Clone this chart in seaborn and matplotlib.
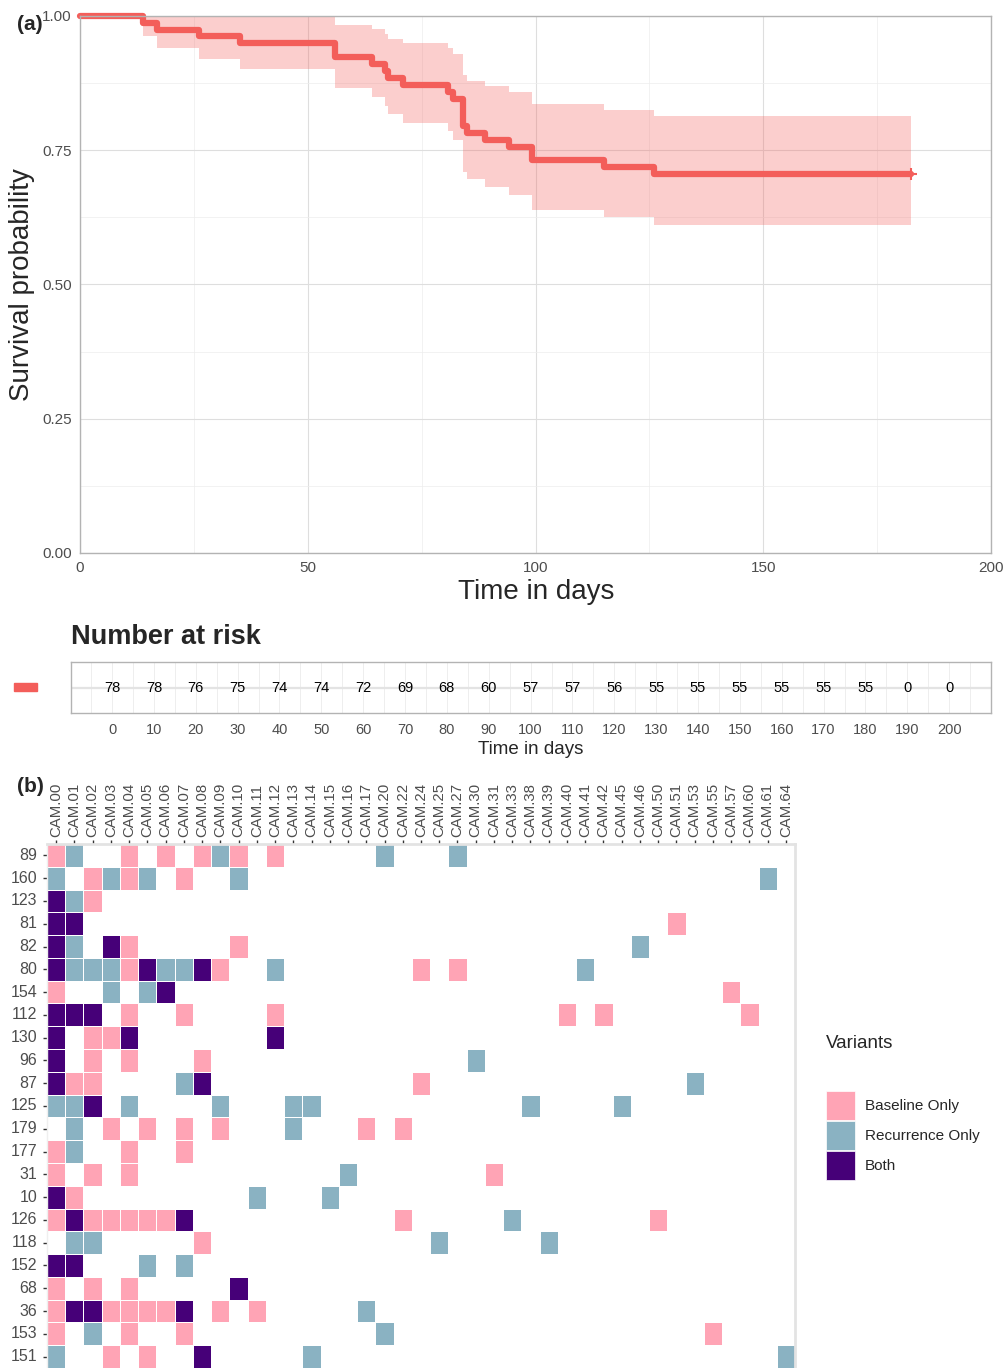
import numpy as np
import pandas as pd
import matplotlib
matplotlib.use("Agg")
import matplotlib.pyplot as plt
from matplotlib.colors import ListedColormap
from matplotlib.patches import Rectangle
import seaborn as sns

sns.set_theme(style="white")
plt.rcParams['font.family'] = ['Liberation Sans', 'DejaVu Sans']

# ---------------- data: (a) Kaplan-Meier ----------------
km_time = [0, 13.9, 16.8, 26.2, 35.1, 55.9, 64.0, 66.9, 67.6, 70.9, 80.9,
           81.9, 84.1, 84.9, 89.0, 94.2, 99.2, 115.0, 126.0, 182.4]
km_surv = [1.000, 0.987, 0.974, 0.962, 0.949, 0.923, 0.910, 0.897, 0.885, 0.872,
           0.859, 0.846, 0.795, 0.782, 0.769, 0.756, 0.731, 0.718, 0.705, 0.705]
km_lower = [1.000, 0.963, 0.940, 0.920, 0.901, 0.866, 0.849, 0.833, 0.817, 0.801,
            0.785, 0.770, 0.710, 0.696, 0.681, 0.667, 0.639, 0.625, 0.611, 0.611]
km_upper = [1.000, 1.000, 1.000, 1.000, 0.999, 0.984, 0.976, 0.967, 0.958, 0.949,
            0.940, 0.930, 0.890, 0.879, 0.869, 0.858, 0.836, 0.825, 0.814, 0.814]
censor_time = [182.4]
censor_surv = [0.705]

risk_time = [0, 10, 20, 30, 40, 50, 60, 70, 80, 90, 100, 110, 120, 130, 140,
             150, 160, 170, 180, 190, 200]
risk_n = [78, 78, 76, 75, 74, 74, 72, 69, 68, 60, 57, 57, 56, 55, 55, 55, 55,
          55, 55, 0, 0]

# ---------------- data: (b) variant heatmap ----------------
cols = ['CAM.00', 'CAM.01', 'CAM.02', 'CAM.03', 'CAM.04', 'CAM.05', 'CAM.06',
        'CAM.07', 'CAM.08', 'CAM.09', 'CAM.10', 'CAM.11', 'CAM.12', 'CAM.13',
        'CAM.14', 'CAM.15', 'CAM.16', 'CAM.17', 'CAM.20', 'CAM.22', 'CAM.24',
        'CAM.25', 'CAM.27', 'CAM.30', 'CAM.31', 'CAM.33', 'CAM.38', 'CAM.39',
        'CAM.40', 'CAM.41', 'CAM.42', 'CAM.45', 'CAM.46', 'CAM.50', 'CAM.51',
        'CAM.53', 'CAM.55', 'CAM.57', 'CAM.60', 'CAM.61', 'CAM.64']
rows = ['89', '160', '123', '81', '82', '80', '154', '112', '130', '96', '87',
        '125', '179', '177', '31', '10', '126', '118', '152', '68', '36', '153', '151']

baseline_only = {
    '89': ['00', '04', '06', '08', '10', '12'],
    '160': ['02', '04', '07'],
    '123': ['02'],
    '81': ['51'],
    '82': ['04', '10'],
    '80': ['04', '09', '24', '27'],
    '154': ['00', '57'],
    '112': ['04', '07', '12', '40', '42', '60'],
    '130': ['02', '03'],
    '96': ['02', '04', '08'],
    '87': ['01', '02', '24'],
    '179': ['03', '05', '07', '09', '17', '22'],
    '177': ['00', '04', '07'],
    '31': ['00', '02', '04', '31'],
    '10': ['01'],
    '126': ['00', '02', '03', '04', '05', '06', '22', '50'],
    '118': ['08'],
    '68': ['00', '02', '04'],
    '36': ['00', '03', '04', '05', '06', '09', '11'],
    '153': ['00', '04', '07', '55'],
    '151': ['03', '05'],
}
recurrence_only = {
    '89': ['01', '09', '20', '27'],
    '160': ['00', '03', '05', '10', '61'],
    '123': ['01'],
    '82': ['01', '46'],
    '80': ['01', '02', '03', '06', '07', '12', '41'],
    '154': ['03', '05'],
    '96': ['30'],
    '87': ['07', '53'],
    '125': ['00', '01', '04', '09', '13', '14', '38', '45'],
    '179': ['01', '13'],
    '177': ['01'],
    '31': ['16'],
    '10': ['11', '15'],
    '126': ['33'],
    '118': ['01', '02', '25', '39'],
    '152': ['05', '07'],
    '36': ['17'],
    '153': ['02', '20'],
    '151': ['00', '14', '64'],
}
both = {
    '123': ['00'],
    '81': ['00', '01'],
    '82': ['00', '03'],
    '80': ['00', '05', '08'],
    '154': ['06'],
    '112': ['00', '01', '02'],
    '130': ['00', '04', '12'],
    '96': ['00'],
    '87': ['00', '08'],
    '125': ['02'],
    '10': ['00'],
    '126': ['01', '07'],
    '152': ['00', '01'],
    '68': ['10'],
    '36': ['01', '02', '07'],
    '151': ['08'],
}
legend_labels = ['Baseline Only', 'Recurrence Only', 'Both']

# ---------------- styling ----------------
W, H = 1004, 1368
LINE = '#F35E5A'
PINK, BLUE, PURPLE = '#FFA4B5', '#8AB2C2', '#460078'
GRAYTXT = '#4D4D4D'


def rect(l, t, r, b):
    return [l / W, 1 - b / H, (r - l) / W, (b - t) / H]


fig = plt.figure(figsize=(W / 100, H / 100), dpi=100)
fig.patch.set_facecolor('white')

# ---------------- panel (a) ----------------
ax = fig.add_axes(rect(80, 16, 991, 553))
ax.fill_between(km_time, km_lower, km_upper, step='post', color=LINE, alpha=0.3, lw=0)
sns.lineplot(x=km_time, y=km_surv, drawstyle='steps-post', color=LINE, lw=4.5,
             estimator=None, sort=False, ax=ax, clip_on=False)
sns.scatterplot(x=censor_time, y=censor_surv, marker='+', s=70, color=LINE,
                linewidth=1.5, ax=ax, zorder=5)
ax.set_xlim(0, 200)
ax.set_ylim(0, 1)
ax.set_xticks([0, 50, 100, 150, 200])
ax.set_xticks([25, 75, 125, 175], minor=True)
ax.set_yticks([0, 0.25, 0.5, 0.75, 1.0])
ax.set_yticklabels(['0.00', '0.25', '0.50', '0.75', '1.00'])
ax.set_yticks([0.125, 0.375, 0.625, 0.875], minor=True)
ax.grid(True, which='major', color='#DEDEDE', lw=0.8)
ax.grid(True, which='minor', color='#EDEDED', lw=0.5)
ax.set_axisbelow(True)
for s in ax.spines.values():
    s.set_color('#B3B3B3')
    s.set_linewidth(1.0)
ax.tick_params(axis='both', which='major', length=4, color='#B3B3B3', width=0.8,
               labelsize=11, labelcolor=GRAYTXT, pad=2)
ax.tick_params(axis='both', which='minor', length=0)
ax.set_xlabel('')
ax.set_ylabel('')
fig.text(536 / W, 1 - 592 / H, 'Time in days', ha='center', va='center', fontsize=20)
fig.text(22 / W, 1 - 285 / H, 'Survival probability', ha='center', va='center',
         fontsize=20, rotation=90)
fig.text(17 / W, 1 - 25 / H, '(a)', ha='left', va='center', fontsize=15, weight='bold')

# ---------------- risk table ----------------
fig.text(71 / W, 1 - 637 / H, 'Number at risk', ha='left', va='center',
         fontsize=19.5, weight='bold')
axr = fig.add_axes(rect(71, 662, 991, 713))
axr.set_xlim(-9.8, 210)
axr.set_ylim(0, 1)
for g in np.arange(-5, 210, 5):
    axr.axvline(g, color='#EBEBEB', lw=0.6, zorder=0)
axr.axhline(0.5, color='#E3E3E3', lw=1.6, zorder=0)
for t, n in zip(risk_time, risk_n):
    axr.text(t, 0.5, str(n), ha='center', va='center', fontsize=10.5, color='black')
axr.set_xticks(risk_time)
axr.set_xticklabels([str(t) for t in risk_time])
axr.set_yticks([])
axr.tick_params(axis='x', length=4, color='#555555', width=0.8, labelsize=10.5,
                labelcolor=GRAYTXT, pad=3)
for s in axr.spines.values():
    s.set_color('#B3B3B3')
    s.set_linewidth(1.0)
fig.text(531 / W, 1 - 750 / H, 'Time in days', ha='center', va='center', fontsize=13.5)
fig.add_artist(Rectangle((14 / W, 1 - 691 / H), 23 / W, 8 / H, color=LINE,
                         transform=fig.transFigure))

# ---------------- panel (b) heatmap ----------------
mat = pd.DataFrame(0, index=rows, columns=cols)
for code, d in [(1, baseline_only), (2, recurrence_only), (3, both)]:
    for r, cl in d.items():
        for c in cl:
            mat.loc[r, 'CAM.' + c] = code

axh = fig.add_axes(rect(47, 844, 795, 1368))
cmap = ListedColormap(['#FFFFFF', PINK, BLUE, PURPLE])
sns.heatmap(mat, cmap=cmap, vmin=-0.5, vmax=3.5, cbar=False, linewidths=0.7,
            linecolor='#FFFFFF', ax=axh, square=False)
axh.xaxis.tick_top()
axh.set_xticks(np.arange(len(cols)) + 0.5)
axh.set_xticklabels(cols, rotation=90, fontsize=10.8, color=GRAYTXT)
axh.set_yticks(np.arange(len(rows)) + 0.5)
axh.set_yticklabels(rows, rotation=0, fontsize=11.5, color=GRAYTXT)
axh.tick_params(axis='x', top=True, bottom=False, length=3, width=1, color='#333333', pad=2)
axh.tick_params(axis='y', left=True, length=3, width=1, color='#333333', pad=4)
axh.set_xlabel('')
axh.set_ylabel('')
for side in ['top', 'right']:
    axh.spines[side].set_visible(True)
    axh.spines[side].set_color('#E3E3E3')
    axh.spines[side].set_linewidth(2)
axh.spines['left'].set_visible(True)
axh.spines['left'].set_color('#EFEFEF')
axh.spines['left'].set_linewidth(1)
axh.spines['bottom'].set_visible(False)
fig.text(17 / W, 1 - 787 / H, '(b)', ha='left', va='center', fontsize=15, weight='bold')

# legend
fig.text(826 / W, 1 - 1043 / H, 'Variants', ha='left', va='center', fontsize=13.5)
keys = ['#FFFFFF', PINK, BLUE, PURPLE]
labels = [''] + legend_labels
for i, (kc, lab) in enumerate(zip(keys, labels)):
    top = 1061 + 30 * i
    fig.add_artist(Rectangle((826 / W, 1 - (top + 29) / H), 29 / W, 29 / H,
                             facecolor=kc, edgecolor='#FFFFFF', lw=0.5,
                             transform=fig.transFigure))
    if lab:
        fig.text(865 / W, 1 - (top + 15) / H, lab, ha='left', va='center', fontsize=11)

fig.savefig('out.png', dpi=100, facecolor='white')
